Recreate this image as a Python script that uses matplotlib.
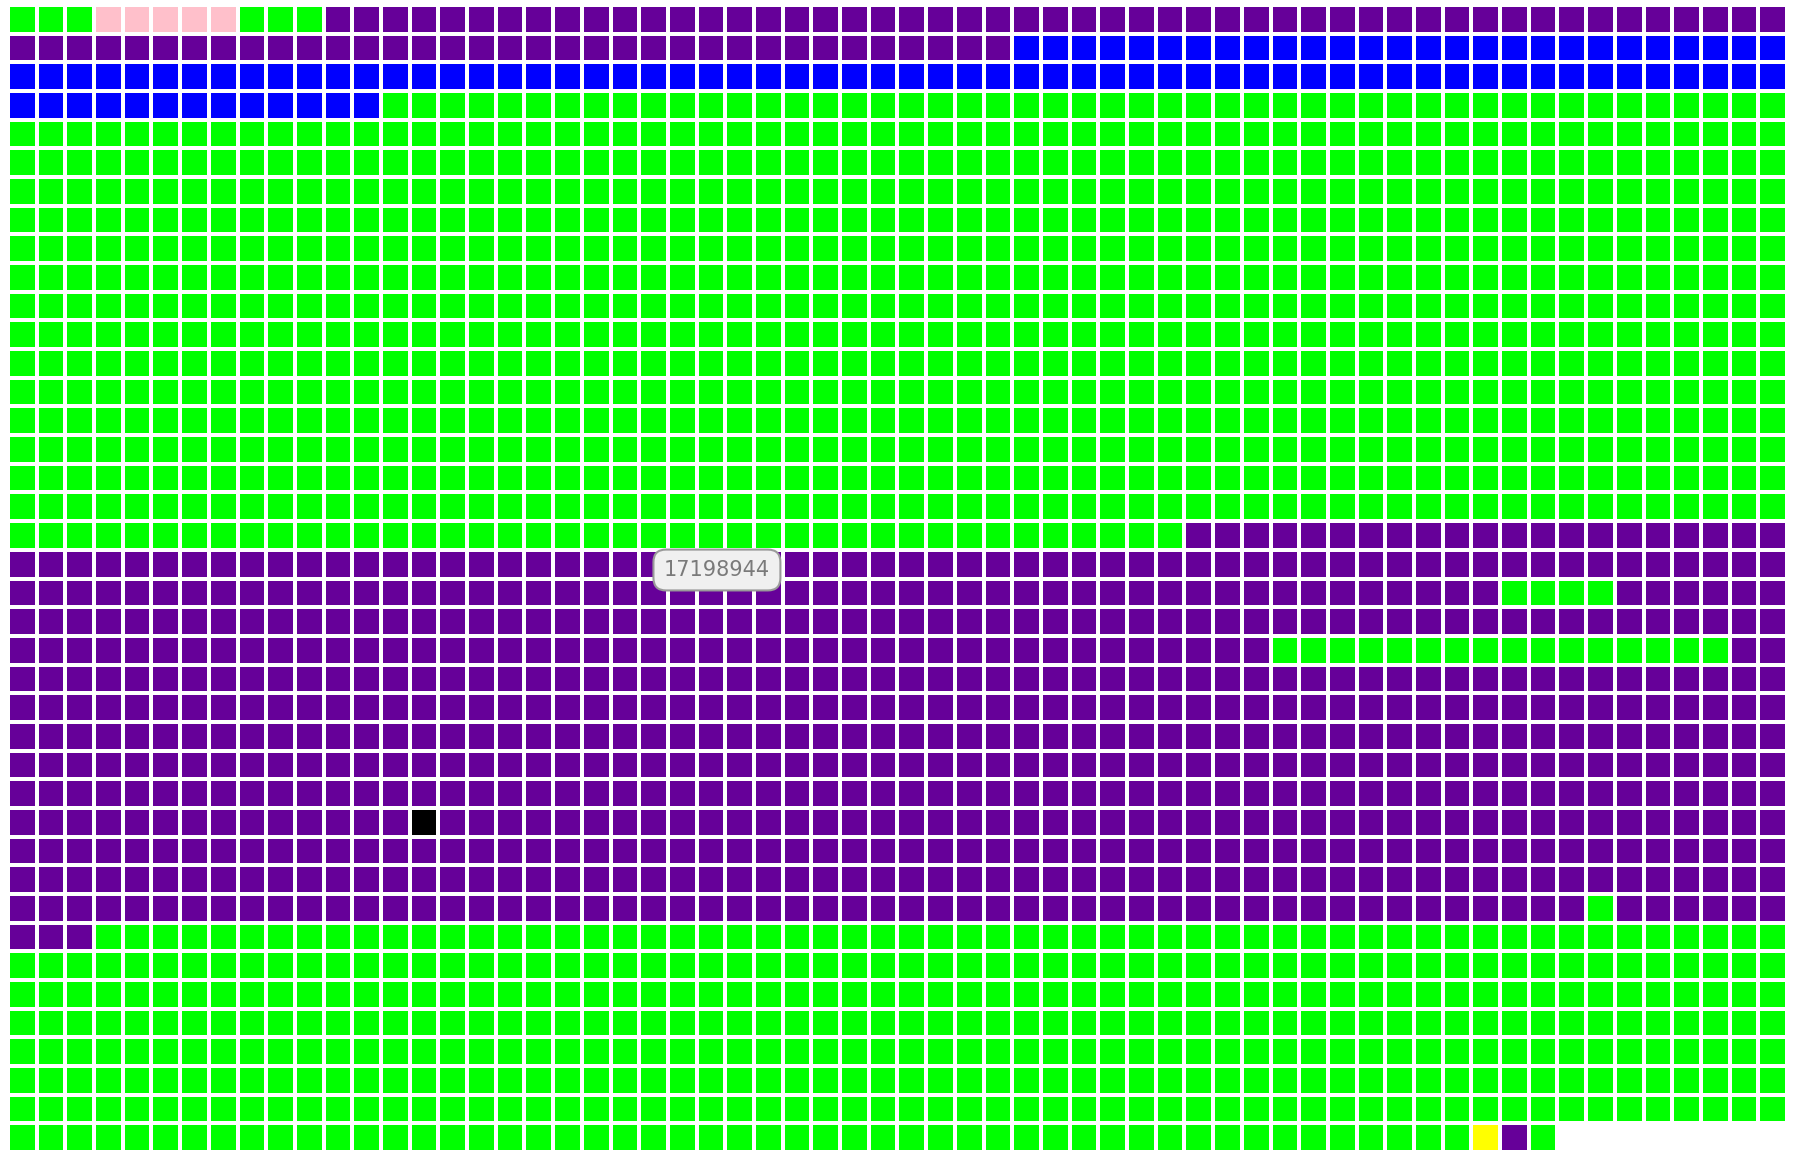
import numpy as np
import matplotlib
matplotlib.use('Agg')
import matplotlib.pyplot as plt
from matplotlib.colors import ListedColormap

# categories and their colours
categories = ['green', 'pink', 'purple', 'blue', 'black', 'yellow']
cat_colors = ['#00ff00', '#ffc0cb', '#660099', '#0000ff', '#000000', '#ffff00']

# run-length encoded cell sequence (row by row, left to right)
run_cats = ['green', 'pink', 'green', 'purple', 'blue', 'green', 'purple', 'green',
            'purple', 'green', 'purple', 'black', 'purple', 'green', 'purple',
            'green', 'yellow', 'purple', 'green']
run_lengths = [3, 5, 3, 86, 102, 958, 135, 4,
               112, 16, 326, 1, 226, 1, 9,
               482, 1, 1, 1]

n_cols = 62
n_rows = 40
tooltip = '17198944'

codes = np.repeat([categories.index(c) for c in run_cats], run_lengths).astype(float)
grid = np.full(n_rows * n_cols, np.nan)
grid[:len(codes)] = codes
grid = np.ma.masked_invalid(grid.reshape(n_rows, n_cols))

fig = plt.figure(figsize=(18.02, 11.55), dpi=100)
ax = fig.add_axes([8/1802, 3/1155, 1779/1802, 1147/1155])
cmap = ListedColormap(cat_colors)
ax.pcolormesh(np.arange(n_cols + 1), np.arange(n_rows + 1), grid, cmap=cmap,
              vmin=-0.5, vmax=len(categories) - 0.5,
              edgecolors='white', linewidth=1.6)
ax.set_xlim(0, n_cols)
ax.set_ylim(n_rows, 0)
ax.axis('off')

ax.text(0.3985, 0.5074, tooltip, transform=ax.transAxes, ha='center', va='center',
        fontsize=15, color='#7a7a7a', family='DejaVu Sans',
        bbox=dict(boxstyle='round,pad=0.5,rounding_size=0.6', fc='#f0f0f0',
                  ec='#9a9a9a', lw=1.5))

fig.savefig('out.png', dpi=100, facecolor='white')
